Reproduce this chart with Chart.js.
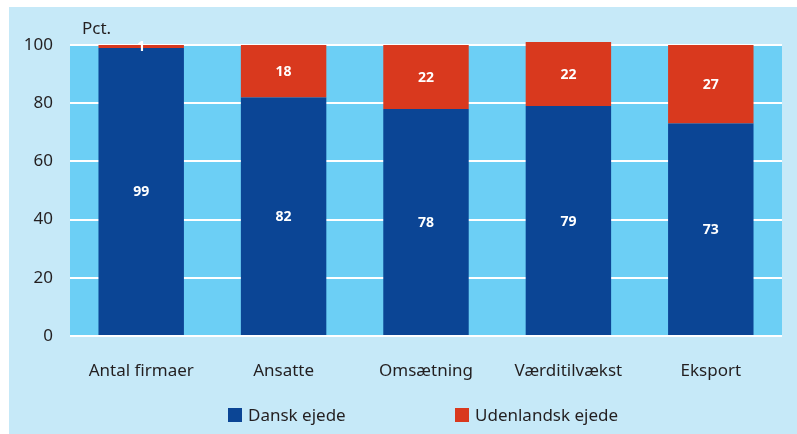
<!DOCTYPE html>
<html>
<head>
<meta charset="utf-8">
<script src="https://cdn.jsdelivr.net/npm/chart.js@4"></script>
<style>
  html, body { margin: 0; padding: 0; background: #ffffff; }
  #wrap { position: absolute; left: 9px; top: 7px; width: 788px; height: 427px; background: #c6e9f8; }
  #chart { position: absolute; left: 0; top: 0; }
  .legend { position: absolute; top: 396px; font-family: "Noto Sans", sans-serif; font-size: 17px; color: #231f20; }
  .legend span.box { display: inline-block; width: 14px; height: 14px; vertical-align: -1px; margin-right: 6px; }
</style>
</head>
<body>
<div id="wrap">
  <canvas id="chart" width="788" height="427"></canvas>
  <div class="legend" style="left:219px"><span class="box" style="background:#0b4595"></span>Dansk ejede</div>
  <div class="legend" style="left:446px"><span class="box" style="background:#d9391e"></span>Udenlandsk ejede</div>
</div>
<script>
// Categories and values
const categories = ["Antal firmaer", "Ansatte", "Omsætning", "Værditilvækst", "Eksport"];
const danskEjede = [99, 82, 78, 79, 73];
const udenlandskEjede = [1, 18, 22, 22, 27];
const yTicks = [0, 20, 40, 60, 80, 100];

const fontFamily = "'Noto Sans', sans-serif";
const textColor = "#231f20";

// Light blue plot background
const plotBackground = {
    id: "plotBackground",
    beforeDraw(chart) {
        const { ctx, chartArea } = chart;
        ctx.save();
        ctx.fillStyle = "#6ccff5";
        ctx.fillRect(chartArea.left, chartArea.top, chartArea.right - chartArea.left, chartArea.bottom - chartArea.top);
        ctx.restore();
    }
};

// White value labels centred in each segment, plus the "Pct." unit label
const valueLabels = {
    id: "valueLabels",
    afterDatasetsDraw(chart) {
        const { ctx, chartArea } = chart;
        ctx.save();
        ctx.fillStyle = "#ffffff";
        ctx.font = "bold 14px " + fontFamily;
        ctx.textAlign = "center";
        ctx.textBaseline = "middle";
        chart.data.datasets.forEach((ds, i) => {
            chart.getDatasetMeta(i).data.forEach((bar, j) => {
                const { x, y, base } = bar.getProps(["x", "y", "base"], true);
                ctx.fillText(String(ds.data[j]), x, (y + base) / 2 + 1);
            });
        });
        ctx.fillStyle = textColor;
        ctx.font = "17px " + fontFamily;
        ctx.textAlign = "left";
        ctx.textBaseline = "alphabetic";
        ctx.fillText("Pct.", chartArea.left + 12, chartArea.top - 11);
        ctx.restore();
    }
};

new Chart(document.getElementById("chart"), {
    type: "bar",
    data: {
        labels: categories,
        datasets: [
            { label: "Dansk ejede", data: danskEjede, backgroundColor: "#0b4595", clip: false },
            { label: "Udenlandsk ejede", data: udenlandskEjede, backgroundColor: "#d9391e", clip: false }
        ]
    },
    options: {
        responsive: false,
        animation: false,
        barPercentage: 0.6,
        categoryPercentage: 1,
        layout: { padding: { top: 38, right: 15, left: 0, bottom: 0 } },
        plugins: {
            legend: { display: false },
            tooltip: { enabled: false }
        },
        scales: {
            x: {
                stacked: true,
                grid: { display: false },
                border: { display: false },
                ticks: { color: textColor, font: { family: fontFamily, size: 17 }, padding: 17, maxRotation: 0 },
                afterFit(scale) { scale.height = 98; }
            },
            y: {
                stacked: true,
                min: 0,
                max: 100,
                afterBuildTicks(scale) { scale.ticks = yTicks.map(v => ({ value: v })); },
                grid: { color: "#ffffff", lineWidth: 2, drawTicks: false },
                border: { display: false },
                ticks: { color: textColor, font: { family: fontFamily, size: 17 }, padding: 17 },
                afterFit(scale) { scale.width = 61; }
            }
        }
    },
    plugins: [plotBackground, valueLabels]
});
</script>
</body>
</html>
